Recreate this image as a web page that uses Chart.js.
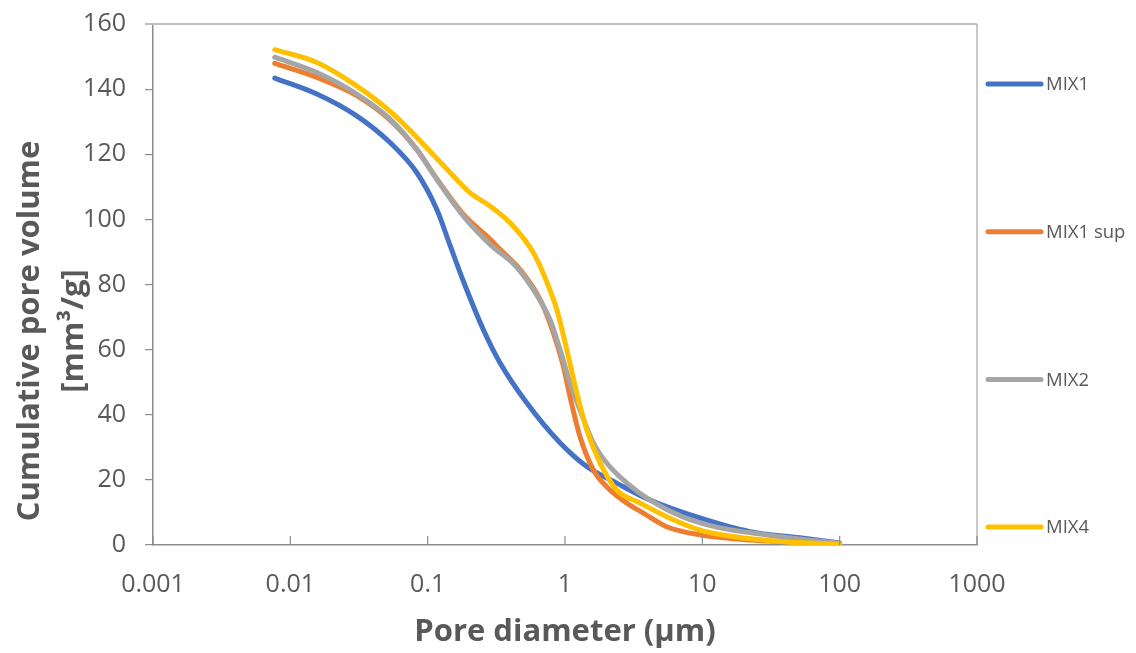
<!DOCTYPE html>
<html>
<head>
<meta charset="utf-8">
<title>Cumulative pore volume</title>
<script src="https://cdn.jsdelivr.net/npm/chart.js@4"></script>
<style>
  html, body { margin: 0; padding: 0; background: #fff; }
  #wrap { width: 1136px; height: 653px; }
</style>
</head>
<body>
<div id="wrap"><canvas id="poreChart" width="1136" height="653"></canvas></div>
<script>
// Series names and colours
const seriesNames = ['MIX1', 'MIX1 sup', 'MIX2', 'MIX4']
const seriesColors = ['#4472C4', '#ED7D31', '#A5A5A5', '#FFC000']

// Pore diameter (µm) / cumulative pore volume (mm³/g)
const mix1X = [0.0077, 0.0156, 0.0304, 0.0532, 0.0832, 0.1164, 0.1456, 0.182, 0.254, 0.336, 0.526, 0.92, 1.44, 2.38, 4.16, 9.6, 22.2, 51.4, 100]
const mix1Y = [143.4, 138.5, 131.8, 123.6, 114.4, 103.1, 92, 81, 66.2, 56.0, 43.7, 31.4, 24.1, 19.0, 13.8, 8.3, 4.1, 2.2, 0.6]

const mix1SupX = [0.0077, 0.0156, 0.0304, 0.0532, 0.0832, 0.1164, 0.182, 0.284, 0.336, 0.47, 0.658, 0.822, 0.973, 1.087, 1.285, 1.607, 2.01, 2.81, 3.72, 5.5, 9.6, 22.2, 100]
const mix1SupY = [147.9, 143.6, 138.0, 130.5, 121.5, 112.5, 101.5, 94, 90.8, 84.6, 75.4, 65.2, 54.9, 45.6, 33.3, 23.1, 17.9, 12.9, 9.8, 5.6, 3.1, 1.5, 0.5]

const mix2X = [0.0077, 0.0156, 0.0304, 0.0532, 0.0832, 0.1164, 0.182, 0.29, 0.43, 0.587, 0.778, 0.92, 1.087, 1.285, 1.607, 2.01, 2.81, 4.16, 7.23, 12.7, 29.4, 100]
const mix2Y = [149.8, 145.1, 138.5, 130.8, 121.5, 112.3, 101.0, 92, 86, 78.5, 69.2, 60.0, 49.8, 41.5, 31.4, 25.2, 19.1, 13.8, 8.6, 5.5, 3.1, 0.5]

const mix4X = [0.0077, 0.0156, 0.0304, 0.0562, 0.0929, 0.1456, 0.203, 0.284, 0.421, 0.587, 0.714, 0.871, 1.03, 1.217, 1.44, 1.80, 2.38, 3.52, 5.5, 9.6, 16.7, 38.7, 100]
const mix4Y = [152.1, 148.2, 141.0, 132.3, 123.1, 114.4, 108.2, 104.1, 97.9, 89.8, 82.2, 72.3, 60.0, 46.8, 35.4, 25.2, 16.9, 12.9, 8.7, 4.6, 2.6, 1.0, 0.3]

// Axis ticks
const xTickValues = [0.001, 0.01, 0.1, 1, 10, 100, 1000]
const xTickLabels = ['0.001', '0.01', '0.1', '1', '10', '100', '1000']
const yTickLabels = ['0', '20', '40', '60', '80', '100', '120', '140', '160']

const xTitle = 'Pore diameter (µm)'
const yTitleLines = ['Cumulative pore volume', '[mm³/g]']

const textColor = '#595959'
const axisColor = '#8c8c8c'
const fontFamily = '"Open Sans", Lato, sans-serif'

/**
 * Zip x and y lists into chart points.
 */
function toPoints (xs, ys) {
  return xs.map((x, i) => ({ x, y: ys[i] }))
}

const seriesPoints = [
  toPoints(mix1X, mix1Y),
  toPoints(mix1SupX, mix1SupY),
  toPoints(mix2X, mix2Y),
  toPoints(mix4X, mix4Y)
]

/**
 * Plot frame, inner x ticks, y title and the spread-out legend.
 */
const excelLook = {
  id: 'excelLook',
  afterDraw (chart) {
    const { ctx, chartArea, scales } = chart
    const { left, right, top, bottom } = chartArea
    ctx.save()

    // top and right border of the plot area
    ctx.strokeStyle = '#bfbfbf'
    ctx.lineWidth = 2
    ctx.beginPath()
    ctx.moveTo(left - 8, top)
    ctx.lineTo(right, top)
    ctx.stroke()
    ctx.strokeStyle = '#a6a6a6'
    ctx.lineWidth = 1.2
    ctx.beginPath()
    ctx.moveTo(right, top)
    ctx.lineTo(right, bottom)
    ctx.stroke()

    // x ticks point up into the plot
    ctx.strokeStyle = axisColor
    ctx.lineWidth = 1.2
    xTickValues.forEach(v => {
      const px = scales.x.getPixelForValue(v)
      ctx.beginPath()
      ctx.moveTo(px, bottom)
      ctx.lineTo(px, bottom - 9)
      ctx.stroke()
    })

    // y axis title, two lines
    ctx.fillStyle = textColor
    ctx.font = 'bold 31px ' + fontFamily
    ctx.textAlign = 'center'
    ctx.textBaseline = 'middle'
    ctx.translate(52, 331)
    ctx.rotate(-Math.PI / 2)
    ctx.fillText(yTitleLines[0], 0, -22)
    ctx.fillText(yTitleLines[1], 0, 22)
    ctx.setTransform(1, 0, 0, 1, 0, 0)

    // legend
    const legendTop = 84
    const legendStep = 147.7
    ctx.font = '18.5px ' + fontFamily
    ctx.textAlign = 'left'
    chart.data.datasets.forEach((ds, i) => {
      const y = legendTop + i * legendStep
      ctx.strokeStyle = ds.borderColor
      ctx.lineWidth = 5
      ctx.lineCap = 'round'
      ctx.beginPath()
      ctx.moveTo(988, y)
      ctx.lineTo(1041, y)
      ctx.stroke()
      ctx.fillStyle = textColor
      ctx.fillText(ds.label, 1046, y + 1)
    })
    ctx.restore()
  }
}

document.addEventListener('DOMContentLoaded', () => {
  const ctx = document.getElementById('poreChart').getContext('2d')

  const datasets = seriesNames.map((name, i) => ({
    label: name,
    data: seriesPoints[i],
    borderColor: seriesColors[i],
    backgroundColor: seriesColors[i],
    borderWidth: 5,
    borderCapStyle: 'round',
    borderJoinStyle: 'round',
    pointRadius: 0,
    cubicInterpolationMode: 'monotone',
    fill: false,
    order: seriesNames.length - 1 - i
  }))

  window.myChart = new Chart(ctx, {
    type: 'line',
    data: { datasets },
    plugins: [excelLook],
    options: {
      responsive: false,
      animation: false,
      layout: { padding: { top: 24, right: 159, left: 0, bottom: 0 } },
      plugins: {
        legend: { display: false },
        tooltip: { enabled: false }
      },
      scales: {
        x: {
          type: 'logarithmic',
          min: 0.001,
          max: 1000,
          afterFit: scale => {
            scale.height = 108
            scale.paddingLeft = 0
            scale.paddingRight = 0
          },
          afterBuildTicks: scale => {
            scale.ticks = xTickValues.map(v => ({ value: v, major: true }))
          },
          ticks: {
            autoSkip: false,
            maxRotation: 0,
            padding: 25,
            color: textColor,
            font: { family: fontFamily, size: 25 },
            callback: (value) => {
              const idx = xTickValues.indexOf(value)
              return idx >= 0 ? xTickLabels[idx] : ''
            }
          },
          grid: { display: false, drawTicks: false },
          border: { display: true, color: axisColor, width: 1.5 },
          title: {
            display: true,
            text: xTitle,
            color: textColor,
            font: { family: fontFamily, size: 31, weight: 'bold' },
            padding: { top: 0, bottom: 2 }
          }
        },
        y: {
          min: 0,
          max: 160,
          afterFit: scale => {
            scale.width = 153
            scale.paddingTop = 0
            scale.paddingBottom = 0
          },
          ticks: {
            stepSize: 20,
            padding: 19,
            color: textColor,
            font: { family: fontFamily, size: 25 },
            callback: (value, index) => yTickLabels[index]
          },
          grid: { drawOnChartArea: false, drawTicks: true, tickLength: 8, color: axisColor, lineWidth: 1.2 },
          border: { display: true, color: axisColor, width: 1.5 }
        }
      }
    }
  })
})
</script>
</body>
</html>
